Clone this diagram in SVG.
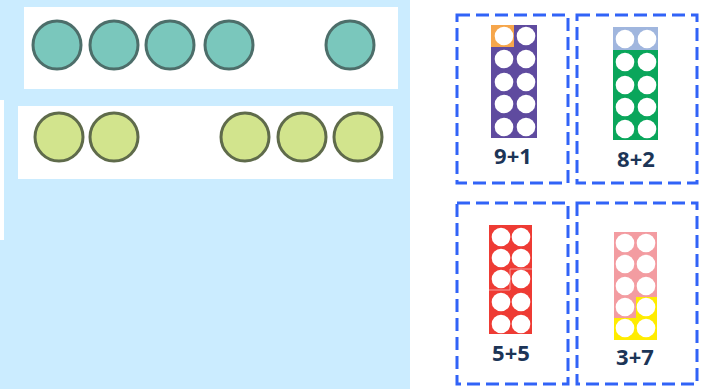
<svg xmlns="http://www.w3.org/2000/svg" width="705" height="389" viewBox="0 0 705 389">
<style>
.teal{fill:#7ac7bc;stroke:#4d6e6a;stroke-width:3}
.lime{fill:#d2e48d;stroke:#5f6b4b;stroke-width:3}
.box{fill:none;stroke:#3163f7;stroke-width:3;stroke-dasharray:13 6}
.dot{fill:#ffffff}
.lbl{font-family:"Noto Sans","Liberation Sans",sans-serif;font-weight:bold;font-size:22px;fill:#1c3557;text-anchor:middle}
</style>
<rect x="0" y="0" width="705" height="389" fill="#ffffff"/>
<rect x="0" y="0" width="410" height="389" fill="#cbecff"/>
<rect x="0" y="100" width="4" height="140" fill="#ffffff"/>
<g id="row-teal">
<rect x="24" y="7" width="374" height="82" fill="#ffffff"/>
<circle class="teal" cx="57" cy="45" r="24"/>
<circle class="teal" cx="114" cy="45" r="24"/>
<circle class="teal" cx="170" cy="45" r="24"/>
<circle class="teal" cx="229" cy="45" r="24"/>
<circle class="teal" cx="350" cy="45" r="24"/>
</g>
<g id="row-lime">
<rect x="18" y="106" width="375" height="73" fill="#ffffff"/>
<circle class="lime" cx="59" cy="137" r="24"/>
<circle class="lime" cx="114" cy="137" r="24"/>
<circle class="lime" cx="245" cy="137" r="24"/>
<circle class="lime" cx="302" cy="137" r="24"/>
<circle class="lime" cx="358" cy="137" r="24"/>
</g>
<g id="card-9plus1">
<rect class="box" x="457" y="15" width="111" height="168"/>
<rect x="491" y="25" width="46" height="113" fill="#5f4b9f"/>
<rect x="491" y="25" width="23" height="22" fill="#f6a64b"/>
<g class="dot">
<circle cx="504" cy="36" r="9.3"/><circle cx="526" cy="36" r="9.3"/>
<circle cx="504" cy="59" r="9.3"/><circle cx="526" cy="59" r="9.3"/>
<circle cx="504" cy="82" r="9.3"/><circle cx="526" cy="82" r="9.3"/>
<circle cx="504" cy="104" r="9.3"/><circle cx="526" cy="104" r="9.3"/>
<circle cx="504" cy="127" r="9.3"/><circle cx="526" cy="127" r="9.3"/>
</g>
<text class="lbl" x="513" y="164">9+1</text>
</g>
<g id="card-8plus2">
<rect class="box" x="577" y="15" width="120" height="168"/>
<rect x="613" y="27" width="45" height="113" fill="#0aa65b"/>
<rect x="613" y="27" width="45" height="23" fill="#a0b6de"/>
<g class="dot">
<circle cx="625" cy="39" r="9.3"/><circle cx="647" cy="39" r="9.3"/>
<circle cx="625" cy="62" r="9.3"/><circle cx="647" cy="62" r="9.3"/>
<circle cx="625" cy="85" r="9.3"/><circle cx="647" cy="85" r="9.3"/>
<circle cx="625" cy="107" r="9.3"/><circle cx="647" cy="107" r="9.3"/>
<circle cx="625" cy="129" r="9.3"/><circle cx="647" cy="129" r="9.3"/>
</g>
<text class="lbl" x="636" y="167">8+2</text>
</g>
<g id="card-5plus5">
<rect class="box" x="457" y="203" width="111" height="181"/>
<rect x="489" y="225" width="43" height="109" fill="#ee3b34"/>
<path d="M489 290 H510 V269 H532" fill="none" stroke="#f7a0a0" stroke-width="1"/>
<g class="dot">
<circle cx="501" cy="237" r="9.3"/><circle cx="521" cy="237" r="9.3"/>
<circle cx="501" cy="258" r="9.3"/><circle cx="521" cy="258" r="9.3"/>
<circle cx="501" cy="279" r="9.3"/><circle cx="521" cy="279" r="9.3"/>
<circle cx="501" cy="302" r="9.3"/><circle cx="521" cy="302" r="9.3"/>
<circle cx="501" cy="324" r="9.3"/><circle cx="521" cy="324" r="9.3"/>
</g>
<text class="lbl" x="511" y="361">5+5</text>
</g>
<g id="card-3plus7">
<rect class="box" x="577" y="203" width="120" height="181"/>
<rect x="614" y="232" width="43" height="108" fill="#f39ca1"/>
<path d="M614 318 H636 V297 H657 V340 H614 Z" fill="#ffec00"/>
<g class="dot">
<circle cx="625" cy="243" r="9.3"/><circle cx="646" cy="243" r="9.3"/>
<circle cx="625" cy="264" r="9.3"/><circle cx="646" cy="264" r="9.3"/>
<circle cx="625" cy="286" r="9.3"/><circle cx="646" cy="286" r="9.3"/>
<circle cx="625" cy="307" r="9.3"/><circle cx="646" cy="307" r="9.3"/>
<circle cx="625" cy="328" r="9.3"/><circle cx="646" cy="328" r="9.3"/>
</g>
<text class="lbl" x="635" y="365">3+7</text>
</g>
<g id="connectors"></g>
</svg>
